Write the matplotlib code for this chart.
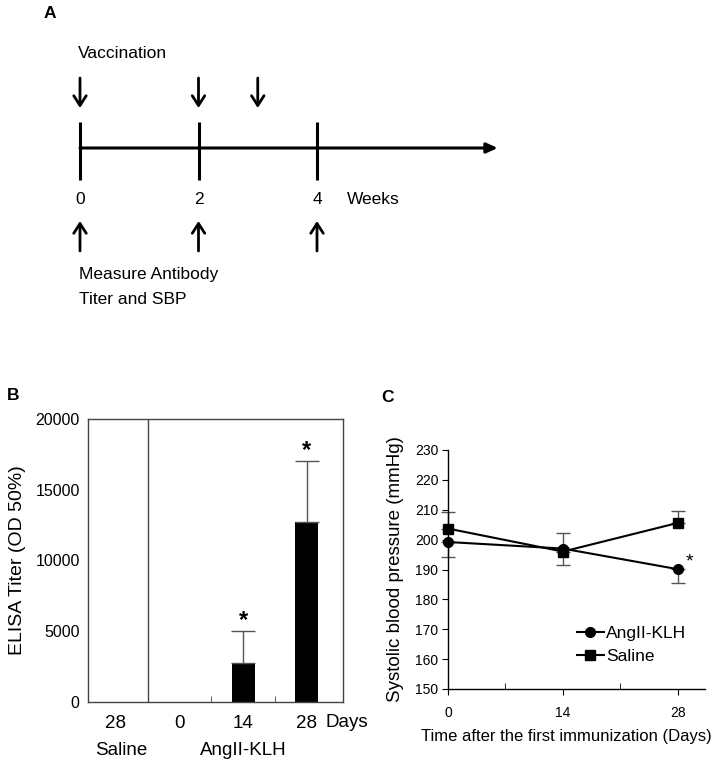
import numpy as np
import matplotlib
matplotlib.use("Agg")
import matplotlib.pyplot as plt
from matplotlib.patches import FancyArrowPatch
from matplotlib.ticker import FixedLocator

plt.rcParams['font.family'] = ['Liberation Sans', 'DejaVu Sans']

# ---------------- data ----------------
# Panel A: schedule (weeks)
timeline_weeks = [0, 2, 4]
vaccination_weeks = [0, 2, 3]
measure_weeks = [0, 2, 4]
timeline_end_week = 7.05

# Panel B: ELISA titer
b_categories = ["28", "0", "14", "28"]
b_groups = ["Saline", "AngII-KLH"]
b_values = [0, 0, 2750, 12750]
b_errors = [0, 0, 2250, 4300]
b_significant = [False, False, True, True]

# Panel C: systolic blood pressure
c_days = [0, 14, 28]
c_angii = [199.2, 197.0, 190.1]
c_angii_err = [5.0, 5.5, 4.7]      # drawn downward
c_saline = [203.7, 196.0, 205.6]
c_saline_err = [5.4, 6.3, 3.9]     # drawn upward

W, H = 716, 763
fig = plt.figure(figsize=(W / 100, H / 100), dpi=100)


def box(x0, y0, x1, y1):
    return [x0 / W, 1 - y1 / H, (x1 - x0) / W, (y1 - y0) / H]


# ---------------- Panel A ----------------
axA = fig.add_axes(box(0, 0, W, 330))
px_per_week = 59.25
axA.set_xlim(-80 / px_per_week, (W - 80) / px_per_week)
axA.set_ylim(330, 0)
axA.axis('off')

y_line = 148
axA.add_patch(FancyArrowPatch((0, y_line), (timeline_end_week, y_line),
                              arrowstyle='-|>,head_length=0.55,head_width=0.25',
                              mutation_scale=12, lw=2.2, color='black',
                              shrinkA=0, shrinkB=0))
axA.vlines(timeline_weeks, 122, 180, color='black', lw=2.2)
for w in vaccination_weeks:
    axA.add_patch(FancyArrowPatch((w, 78), (w, 108),
                                  arrowstyle='->,head_length=0.7,head_width=0.45',
                                  mutation_scale=10, lw=2.0, color='black',
                                  shrinkA=0, shrinkB=0))
for w in measure_weeks:
    axA.add_patch(FancyArrowPatch((w, 251), (w, 221),
                                  arrowstyle='->,head_length=0.7,head_width=0.45',
                                  mutation_scale=10, lw=2.0, color='black',
                                  shrinkA=0, shrinkB=0))
for w in timeline_weeks:
    axA.text(w, 200, str(w), ha='center', va='center', fontsize=12.5)
axA.text(4.5, 200, "Weeks", ha='left', va='center', fontsize=12.5)
axA.text(-0.03, 54, "Vaccination", ha='left', va='center', fontsize=12.5)
axA.text(-0.02, 275, "Measure Antibody", ha='left', va='center', fontsize=12.5)
axA.text(-0.02, 300, "Titer and SBP", ha='left', va='center', fontsize=12.5)
axA.text(-0.51, 13, "A", ha='center', va='center', fontsize=12.5, fontweight='bold')

# ---------------- Panel B ----------------
axB = fig.add_axes(box(88, 419, 343, 702))
xpos = np.arange(len(b_categories))
axB.bar(xpos, b_values, width=0.36, color='black')
vals = np.array(b_values, dtype=float)
errs = np.array(b_errors, dtype=float)
m = errs > 0
axB.errorbar(xpos[m], vals[m], yerr=[np.zeros(m.sum()), errs[m]], fmt='none',
             ecolor='#555555', elinewidth=1, capsize=8.3, capthick=1)
for x, v, e, s in zip(xpos, vals, errs, b_significant):
    if s:
        axB.annotate("*", (x, v + e), xytext=(0, 7.5), textcoords='offset points',
                     ha='center', va='center', fontsize=17, fontweight='bold')
axB.axvline(0.5, color='#444444', lw=1)
axB.set_xlim(-0.44, 3.57)
axB.set_ylim(0, 20000)
axB.set_yticks([0, 5000, 10000, 15000, 20000])
axB.set_xticks(xpos)
axB.set_xticklabels(b_categories, fontsize=13.5)
axB.xaxis.set_minor_locator(FixedLocator([1.5, 2.5]))
axB.tick_params(axis='x', which='major', length=0, pad=9)
axB.tick_params(axis='x', which='minor', length=4, direction='in', color='#444444')
axB.tick_params(axis='y', length=0, pad=6, labelsize=11.5)
for sp in axB.spines.values():
    sp.set_color('#444444')
    sp.set_linewidth(1)
axB.text(3.29, -0.072, "Days", transform=axB.get_xaxis_transform(),
         ha='left', va='center', fontsize=13.5)
axB.text(0.08, -0.17, b_groups[0], transform=axB.get_xaxis_transform(),
         ha='center', va='center', fontsize=13.5)
axB.text(2.0, -0.17, b_groups[1], transform=axB.get_xaxis_transform(),
         ha='center', va='center', fontsize=13.5)
axB.set_ylabel("ELISA Titer (OD 50%)", fontsize=14, labelpad=7)
fig.text(13 / W, 1 - 396 / H, "B", ha='center', va='center', fontsize=12.5,
         fontweight='bold')

# ---------------- Panel C ----------------
axC = fig.add_axes(box(448, 450, 705, 689))
axC.errorbar(c_days, c_saline, yerr=[np.zeros(3), c_saline_err], fmt='none',
             ecolor='#555555', elinewidth=1, capsize=4.7, capthick=1, clip_on=False)
axC.errorbar(c_days, c_angii, yerr=[c_angii_err, np.zeros(3)], fmt='none',
             ecolor='#555555', elinewidth=1, capsize=4.7, capthick=1, clip_on=False)
axC.plot(c_days, c_angii, color='black', lw=1.5, marker='o', markersize=7,
         label='AngII-KLH', clip_on=False, zorder=3)
axC.plot(c_days, c_saline, color='black', lw=1.5, marker='s', markersize=6.5,
         label='Saline', clip_on=False, zorder=3)
axC.annotate("*", (c_days[2], c_angii[2]), xytext=(8, 5.5), textcoords='offset points',
             ha='center', va='center', fontsize=14)
axC.set_xlim(0, 31.3)
axC.set_ylim(150, 230)
axC.set_yticks(np.arange(150, 231, 10))
axC.set_xticks(c_days)
axC.xaxis.set_minor_locator(FixedLocator([7, 21]))
axC.tick_params(axis='x', which='major', length=4, direction='out', labelsize=10, pad=8)
axC.tick_params(axis='x', which='minor', length=4, direction='in')
axC.tick_params(axis='y', length=4, direction='out', labelsize=10, pad=3)
axC.spines['top'].set_visible(False)
axC.spines['right'].set_visible(False)
for sp in ('left', 'bottom'):
    axC.spines[sp].set_linewidth(1)
axC.set_xlabel("Time after the first immunization (Days)", fontsize=12, labelpad=7)
axC.xaxis.label.set_x(0.462)
axC.set_ylabel("Systolic blood pressure (mmHg)", fontsize=13.5, labelpad=7.5)
axC.legend(loc='center left', bbox_to_anchor=(0.5, 0.184), frameon=False,
           fontsize=12.5, handlelength=1.6, handletextpad=0.1, labelspacing=0.42,
           borderpad=0, borderaxespad=0)
fig.text(388 / W, 1 - 397 / H, "C", ha='center', va='center', fontsize=12.5,
         fontweight='bold')

fig.savefig("out.png", dpi=100)
